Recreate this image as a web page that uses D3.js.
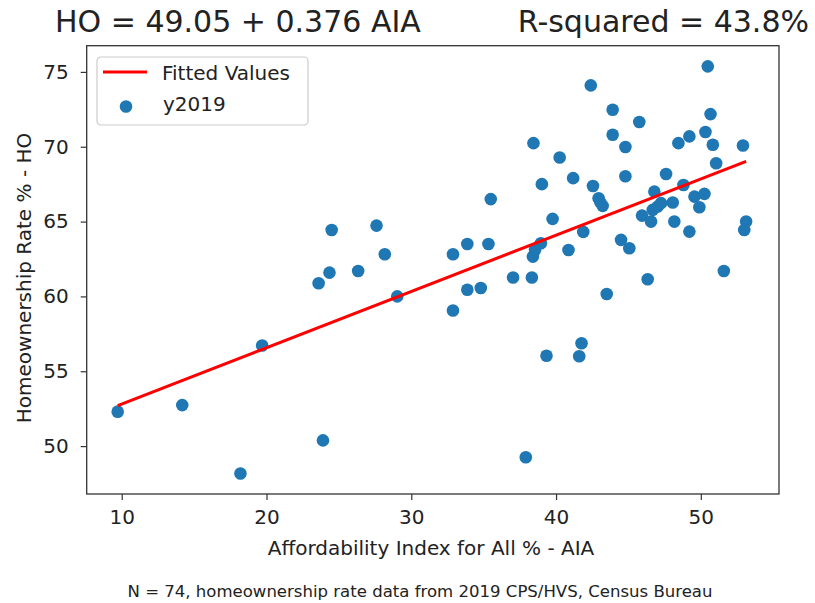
<!DOCTYPE html>
<html>
	<head>
		<script type="text/javascript" src="https://cdn.jsdelivr.net/npm/d3@7"></script>
		<style>
		body {
			margin: 0;
			background-color: white;
		}
		.chart text {
			font-family: "DejaVu Sans", sans-serif;
			fill: #222;
		}
		.axis path, .axis line {
			stroke: #333;
			stroke-width: 1.2;
		}
		.axis text {
			font-size: 20px;
		}
		</style>
	</head>
	<body>
		<script type="text/javascript">
			// affordability index (x) and homeownership rate (y), one entry per metro
			var aia = [9.72, 14.18, 18.2, 19.7, 23.6, 23.9, 24.35, 24.5, 26.33, 27.6,
				28.17, 29.03, 32.88, 32.88, 33.87, 33.87, 34.8, 35.33, 35.49, 37.03,
				37.91, 38.33, 38.4, 38.55, 38.95, 38.44, 39.02, 39.34, 39.76, 40.25,
				40.86, 41.18, 41.6, 41.76, 41.88, 42.4, 42.55, 42.94, 43.05, 43.22,
				43.5, 43.91, 43.91, 44.49, 44.79, 44.79, 45.06, 45.75, 45.94, 46.33,
				46.56, 46.68, 46.79, 47.02, 47.25, 47.6, 48.06, 48.17, 48.45, 48.8,
				49.21, 49.21, 49.56, 49.9, 50.25, 50.32, 50.48, 50.67, 50.83, 51.06,
				51.59, 52.91, 53.13, 53.0];
			var ho = [52.3, 52.74, 48.17, 56.72, 60.88, 50.38, 61.59, 64.44, 61.7, 64.73,
				62.82, 60.0, 62.82, 59.06, 63.5, 60.45, 60.56, 63.5, 66.5, 61.26,
				49.26, 61.26, 62.66, 63.1, 63.55, 70.24, 67.5, 56.04, 65.18, 69.28,
				63.1, 67.9, 56.0, 56.87, 64.31, 74.1, 67.38, 66.56, 66.3, 66.05,
				60.16, 72.47, 70.8, 63.78, 69.98, 68.03, 63.22, 71.65, 65.4, 61.15,
				65.0, 65.78, 67.0, 66.0, 66.23, 68.18, 66.27, 65.0, 70.24, 67.44,
				70.69, 64.33, 66.67, 65.96, 66.85, 70.98, 75.37, 72.18, 70.13, 68.9,
				61.7, 70.08, 65.0, 64.44];

			var intercept = 49.05,
				slope = 0.376;

			var xTicks = [10, 20, 30, 40, 50],
				yTicks = [50, 55, 60, 65, 70, 75];

			var width = 815,
				height = 603;

			var x = d3.scaleLinear()
				.domain([7.58, 55.4])
				.range([86.7, 779]);

			var y = d3.scaleLinear()
				.domain([46.8, 76.75])
				.range([494, 45.7]);

			var chart = d3.select("body").append("svg")
				.attr("class", "chart")
				.attr("width", width)
				.attr("height", height);

			// axes
			chart.append("g")
				.attr("class", "axis")
				.attr("transform", "translate(0," + y.range()[0] + ")")
				.call(d3.axisBottom(x).tickValues(xTicks).tickSize(6).tickPadding(10).tickSizeOuter(0));

			chart.append("g")
				.attr("class", "axis")
				.attr("transform", "translate(" + x.range()[0] + ",0)")
				.call(d3.axisLeft(y).tickValues(yTicks).tickSize(6).tickPadding(12).tickSizeOuter(0));

			chart.selectAll(".axis .domain").remove();
			chart.selectAll(".axis text").attr("fill", "#222");

			// frame round the plot
			chart.append("rect")
				.attr("x", x.range()[0])
				.attr("y", y.range()[1])
				.attr("width", x.range()[1] - x.range()[0])
				.attr("height", y.range()[0] - y.range()[1])
				.attr("fill", "none")
				.attr("stroke", "#333")
				.attr("stroke-width", 1.3);

			// points
			chart.append("g").selectAll("circle")
				.data(d3.range(aia.length))
			  .enter().append("circle")
				.attr("cx", function(i) { return x(aia[i]); })
				.attr("cy", function(i) { return y(ho[i]); })
				.attr("r", 6.3)
				.attr("fill", "#1f77b4");

			// fitted line over the range of the data
			var xMin = d3.min(aia), xMax = d3.max(aia);
			chart.append("line")
				.attr("x1", x(xMin))
				.attr("y1", y(intercept + slope * xMin))
				.attr("x2", x(xMax))
				.attr("y2", y(intercept + slope * xMax))
				.attr("stroke", "red")
				.attr("stroke-width", 3);

			// legend
			var legend = chart.append("g")
				.attr("transform", "translate(97,57)");

			legend.append("rect")
				.attr("width", 211)
				.attr("height", 68)
				.attr("rx", 4)
				.attr("fill", "white")
				.attr("fill-opacity", 0.8)
				.attr("stroke", "#ccc")
				.attr("stroke-width", 1.2);

			legend.append("line")
				.attr("x1", 6).attr("x2", 50)
				.attr("y1", 15).attr("y2", 15)
				.attr("stroke", "red")
				.attr("stroke-width", 3);

			legend.append("text")
				.attr("x", 65).attr("y", 23)
				.style("font-size", "20px")
				.text("Fitted Values");

			legend.append("circle")
				.attr("cx", 29).attr("cy", 49.5)
				.attr("r", 6.3)
				.attr("fill", "#1f77b4");

			legend.append("text")
				.attr("x", 66).attr("y", 54)
				.style("font-size", "20px")
				.text("y2019");

			// titles and labels
			chart.append("text")
				.attr("x", 55).attr("y", 32)
				.style("font-size", "30px")
				.text("HO = 49.05 + 0.376 AIA");

			chart.append("text")
				.attr("x", 809).attr("y", 32)
				.attr("text-anchor", "end")
				.style("font-size", "30px")
				.text("R-squared = 43.8%");

			chart.append("text")
				.attr("x", 431).attr("y", 555)
				.attr("text-anchor", "middle")
				.style("font-size", "20px")
				.text("Affordability Index for All % - AIA");

			chart.append("text")
				.attr("transform", "translate(31,278) rotate(-90)")
				.attr("text-anchor", "middle")
				.style("font-size", "20px")
				.text("Homeownership Rate % - HO");

			chart.append("text")
				.attr("x", 420).attr("y", 597)
				.attr("text-anchor", "middle")
				.attr("textLength", 585)
				.attr("lengthAdjust", "spacingAndGlyphs")
				.style("font-size", "15px")
				.text("N = 74, homeownership rate data from 2019 CPS/HVS, Census Bureau");
		</script>
	</body>
</html>
